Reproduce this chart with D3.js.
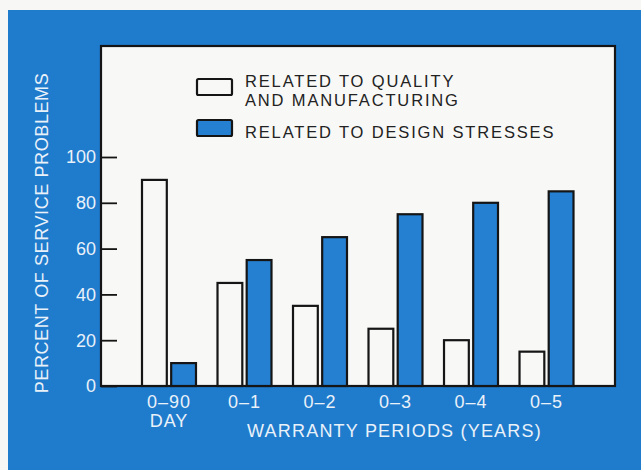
<!DOCTYPE html>
<html>
<head>
<meta charset="utf-8">
<script src="https://cdn.jsdelivr.net/npm/d3@7"></script>
<style>
  html, body { margin: 0; padding: 0; background: #f7f7f5; }
  svg { display: block; }
  text { font-family: "Liberation Sans", Arial, Helvetica, sans-serif; }
</style>
</head>
<body>
<svg id="chart" width="641" height="470"></svg>
<script>
// Warranty periods and the share of service problems in each
const periods = ["0\u201390", "0\u20131", "0\u20132", "0\u20133", "0\u20134", "0\u20135"];
const periodSub = ["DAY", "", "", "", "", ""];
const qualityValues = [90, 45, 35, 25, 20, 15];
const designValues = [10, 55, 65, 75, 80, 85];
const seriesKeys = ["quality", "design"];
const seriesNames = ["RELATED TO QUALITY\nAND MANUFACTURING", "RELATED TO DESIGN STRESSES"];
const yTicks = [0, 20, 40, 60, 80, 100];

const BLUE = "#1f7bcc";
const BAR_BLUE = "#2580d2";
const PAPER = "#f8f8f6";
const INK = "#151515";
const LABEL = "#e9f1f9";

const svg = d3.select("#chart");

// Blue panel
svg.append("rect").attr("x", 8).attr("y", 10).attr("width", 641 - 8).attr("height", 470 - 10).attr("fill", BLUE);

// Plot frame
const plot = { left: 101, top: 46, right: 615, bottom: 386 };
svg.append("rect")
  .attr("x", plot.left).attr("y", plot.top)
  .attr("width", plot.right - plot.left).attr("height", plot.bottom - plot.top)
  .attr("fill", PAPER).attr("stroke", INK).attr("stroke-width", 2.2);

const y = d3.scaleLinear().domain([0, 100]).range([386, 157]);
const x0 = d3.scaleBand().domain(periods).range([142, 573.5]).paddingInner(0.285).paddingOuter(0);
const x1 = d3.scaleBand().domain(seriesKeys).range([0, x0.bandwidth()]).paddingInner(0.15);

// Y axis: ticks drawn inward from the frame
const yAxis = d3.axisRight(y).tickValues(yTicks).tickSize(16).tickFormat("");
const ya = svg.append("g").attr("transform", `translate(${plot.left},0)`).call(yAxis);
ya.select(".domain").remove();
ya.selectAll("line").attr("stroke", INK).attr("stroke-width", 1.8);

svg.append("g").selectAll("text").data(yTicks).join("text")
  .attr("x", 96).attr("y", d => y(d)).attr("dy", "0.36em")
  .attr("text-anchor", "end").attr("font-size", 18).attr("fill", LABEL)
  .text(d => d);

// Bars
const rows = periods.map((p, i) => ({ period: p, quality: qualityValues[i], design: designValues[i] }));
const groups = svg.append("g").selectAll("g").data(rows).join("g")
  .attr("transform", d => `translate(${x0(d.period)},0)`);
groups.selectAll("rect").data(d => seriesKeys.map(k => ({ key: k, value: d[k] }))).join("rect")
  .attr("x", d => x1(d.key))
  .attr("y", d => y(d.value))
  .attr("width", x1.bandwidth())
  .attr("height", d => y(0) - y(d.value))
  .attr("fill", d => d.key === "quality" ? PAPER : BAR_BLUE)
  .attr("stroke", INK).attr("stroke-width", 2.2);

// Bottom border redrawn over bars
svg.append("line").attr("x1", plot.left).attr("x2", plot.right)
  .attr("y1", plot.bottom).attr("y2", plot.bottom)
  .attr("stroke", INK).attr("stroke-width", 2.2);

// Category labels (with optional second line)
const cat = svg.append("g").selectAll("text").data(periods).join("text")
  .attr("y", 408)
  .attr("text-anchor", "middle").attr("font-size", 18).attr("fill", LABEL)
  .attr("letter-spacing", 1);
cat.append("tspan")
  .attr("x", d => x0(d) + x0.bandwidth() / 2)
  .text(d => d);
cat.filter((d, i) => periodSub[i]).append("tspan")
  .attr("x", d => x0(d) + x0.bandwidth() / 2)
  .attr("dy", 19)
  .text(d => periodSub[periods.indexOf(d)]);

// Axis titles
svg.append("text").attr("x", 394.5).attr("y", 437)
  .attr("text-anchor", "middle").attr("font-size", 18).attr("fill", LABEL)
  .attr("letter-spacing", 1.2)
  .text("WARRANTY PERIODS (YEARS)");

svg.append("text")
  .attr("transform", "translate(48,233) rotate(-90)")
  .attr("text-anchor", "middle").attr("font-size", 18).attr("fill", LABEL)
  .attr("letter-spacing", 0.6)
  .text("PERCENT OF SERVICE PROBLEMS");

// Legend
const legend = svg.append("g");
const legendRows = [
  { key: "quality", boxY: 79, textY: 87 },
  { key: "design", boxY: 120, textY: 138 }
];
legendRows.forEach((r, i) => {
  legend.append("rect")
    .attr("x", 197).attr("y", r.boxY).attr("width", 35).attr("height", 16).attr("rx", 1.5)
    .attr("fill", r.key === "quality" ? PAPER : BAR_BLUE)
    .attr("stroke", INK).attr("stroke-width", 2.2);
  const t = legend.append("text")
    .attr("y", r.textY)
    .attr("font-size", 16.5).attr("fill", "#222")
    .attr("letter-spacing", 1.85);
  seriesNames[i].split("\n").forEach((ln, j) => {
    t.append("tspan").attr("x", 245).attr("dy", j === 0 ? 0 : 19).text(ln);
  });
});
</script>
</body>
</html>
